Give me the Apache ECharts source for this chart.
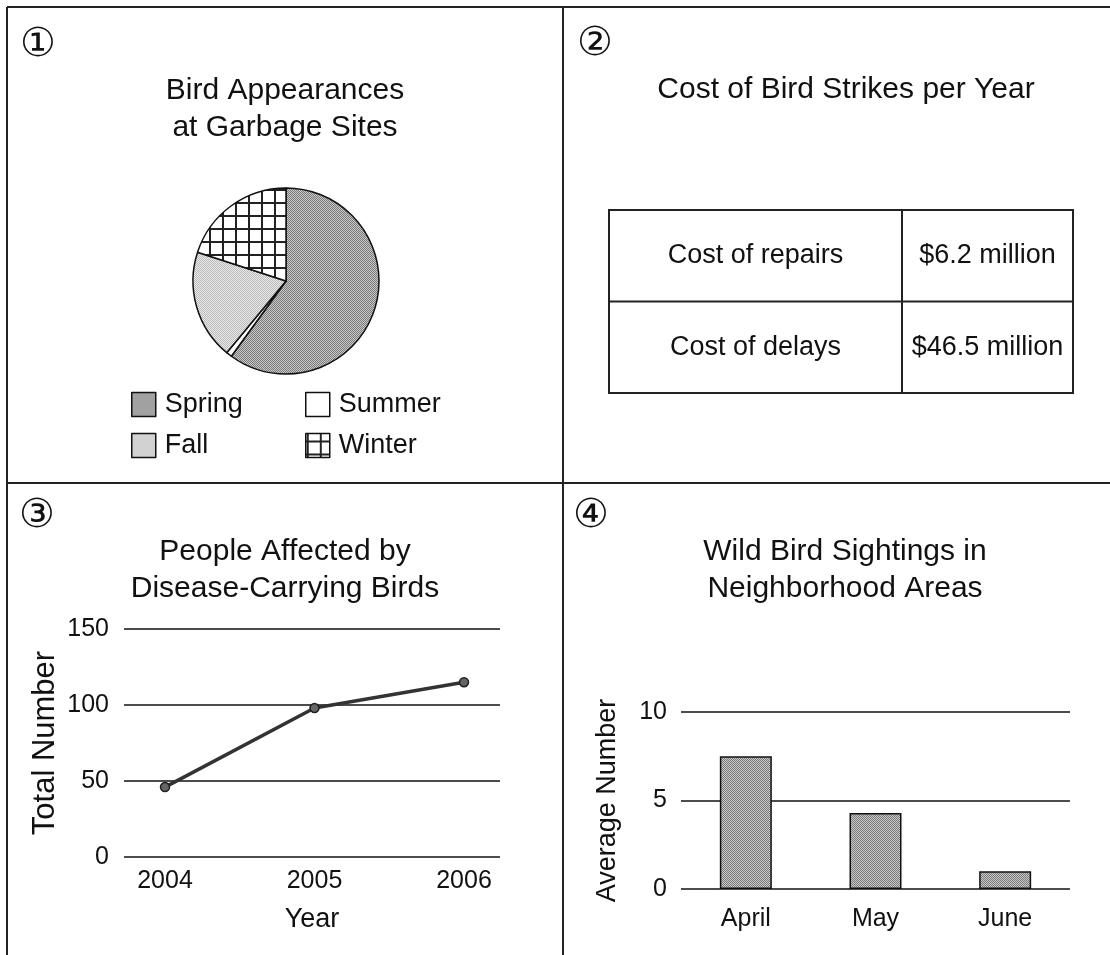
<!DOCTYPE html>
<html lang="en">
<head>
    <meta charset="UTF-8">
    <title>Bird charts</title>
    <script src="https://cdn.jsdelivr.net/npm/echarts@6.0.0/dist/echarts.min.js"></script>
    <style>
        body { margin: 0; background: #fff; }
    </style>
</head>
<body>
    <div id="main" style="width: 1110px;height:955px;"></div>
    <script type="text/javascript">
        // data
        const pieSeasons = ['Spring', 'Summer', 'Fall', 'Winter'];
        const pieShares = [60, 1, 19, 20];

        const costItems = ['Cost of repairs', 'Cost of delays'];
        const costValues = ['$6.2 million', '$46.5 million'];

        const years = [2004, 2005, 2006];
        const peopleAffected = [46, 98, 115];

        const months = ['April', 'May', 'June'];
        const sightings = [7.5, 4.3, 1.0];

        const font = 'Liberation Sans, Arial, Helvetica, sans-serif';
        const ink = '#111';

        // small canvas fills to imitate the printed stipple / grid textures
        function stipple(dark, light) {
            const c = document.createElement('canvas');
            c.width = c.height = 2;
            const ctx = c.getContext('2d');
            ctx.fillStyle = light;
            ctx.fillRect(0, 0, 2, 2);
            ctx.fillStyle = dark;
            ctx.fillRect(0, 0, 1, 1);
            ctx.fillRect(1, 1, 1, 1);
            return { image: c, repeat: 'repeat' };
        }
        function crossHatch() {
            const c = document.createElement('canvas');
            c.width = c.height = 13;
            const ctx = c.getContext('2d');
            ctx.fillStyle = '#fff';
            ctx.fillRect(0, 0, 13, 13);
            ctx.fillStyle = '#222';
            ctx.fillRect(0, 7, 13, 2);
            ctx.fillRect(1, 0, 2, 13);
            return { image: c, repeat: 'repeat' };
        }

        const darkDots = stipple('#7a7a7a', '#c8c8c8');
        const lightDots = stipple('#b8b8b8', '#ececec');
        const pieFills = [darkDots, '#fff', lightDots, crossHatch()];

        let myChart = echarts.init(document.getElementById('main'));

        // frame, panel numbers and the cost table
        let graphics = [];
        [[7, 7, 1110, 7], [7, 7, 7, 955], [563, 7, 563, 955], [7, 483, 1110, 483]].forEach(p => {
            graphics.push({ type: 'line', shape: { x1: p[0], y1: p[1], x2: p[2], y2: p[3] },
                style: { stroke: '#222', lineWidth: 2 }, silent: true });
        });
        [['①', 38, 46], ['②', 595, 45], ['③', 37, 517], ['④', 591, 517]].forEach(n => {
            graphics.push({ type: 'text', x: n[1], y: n[2], silent: true,
                style: { text: n[0], font: '40px DejaVu Sans', fill: ink, align: 'center', verticalAlign: 'middle' } });
        });

        const tbl = { x: 609, y: 210, w: 464, rowH: 91.5, split: 902 };
        graphics.push({ type: 'rect', shape: { x: tbl.x, y: tbl.y, width: tbl.w, height: tbl.rowH * costItems.length },
            style: { fill: 'none', stroke: '#222', lineWidth: 2 }, silent: true });
        graphics.push({ type: 'line', shape: { x1: tbl.split, y1: tbl.y, x2: tbl.split, y2: tbl.y + tbl.rowH * costItems.length },
            style: { stroke: '#222', lineWidth: 2 }, silent: true });
        costItems.forEach((label, i) => {
            const cy = tbl.y + tbl.rowH * (i + 0.5);
            if (i > 0) {
                graphics.push({ type: 'line', shape: { x1: tbl.x, y1: tbl.y + tbl.rowH * i, x2: tbl.x + tbl.w, y2: tbl.y + tbl.rowH * i },
                    style: { stroke: '#222', lineWidth: 2 }, silent: true });
            }
            graphics.push({ type: 'text', x: (tbl.x + tbl.split) / 2, y: cy, silent: true,
                style: { text: label, font: '27px ' + font, fill: ink, align: 'center', verticalAlign: 'middle' } });
            graphics.push({ type: 'text', x: (tbl.split + tbl.x + tbl.w) / 2, y: cy, silent: true,
                style: { text: costValues[i], font: '27px ' + font, fill: ink, align: 'center', verticalAlign: 'middle' } });
        });

        const titleStyle = { fontSize: 30, fontWeight: 'normal', lineHeight: 37, color: ink, fontFamily: font };
        const labelStyle = { fontSize: 25, color: ink, fontFamily: font };
        const nameStyle = { fontSize: 27, color: ink, fontFamily: font };
        const legendBase = {
            orient: 'vertical', itemWidth: 24, itemHeight: 24, itemGap: 14, selectedMode: false,
            icon: 'rect',
            itemStyle: { borderColor: '#111', borderWidth: 1.5 },
            textStyle: { fontSize: 27, color: ink, fontFamily: font, lineHeight: 24, padding: [0, 0, 0, 4] }
        };

        let options = {
            animation: false,
            textStyle: { fontFamily: font },
            graphic: graphics,
            title: [
                { text: 'Bird Appearances\nat Garbage Sites', left: 285, top: 72, textAlign: 'center', padding: 0, textStyle: titleStyle },
                { text: 'Cost of Bird Strikes per Year', left: 846, top: 71, textAlign: 'center', padding: 0, textStyle: titleStyle },
                { text: 'People Affected by\nDisease-Carrying Birds', left: 285, top: 533, textAlign: 'center', padding: 0, textStyle: titleStyle },
                { text: 'Wild Bird Sightings in\nNeighborhood Areas', left: 845, top: 533, textAlign: 'center', padding: 0, textStyle: titleStyle }
            ],
            legend: [
                Object.assign({}, legendBase, { data: ['Spring', 'Fall'], left: 126, top: 386 }),
                Object.assign({}, legendBase, { data: ['Summer', 'Winter'], left: 300, top: 386 })
            ],
            grid: [
                { left: 124, right: 610, top: 629, bottom: 98 },
                { left: 681, right: 40, top: 712, bottom: 66 }
            ],
            xAxis: [
                {
                    gridIndex: 0, type: 'value', min: 2003.7258, max: 2006.2408,
                    axisLine: { show: false }, axisTick: { show: false }, splitLine: { show: false },
                    axisLabel: Object.assign({ customValues: years, margin: 12, formatter: v => String(v) }, labelStyle),
                    name: 'Year', nameLocation: 'middle', nameGap: 49, nameTextStyle: nameStyle
                },
                {
                    gridIndex: 1, type: 'category', data: months,
                    axisLine: { show: false }, axisTick: { show: false },
                    axisLabel: Object.assign({ margin: 18 }, labelStyle)
                }
            ],
            yAxis: [
                {
                    gridIndex: 0, type: 'value', min: 0, max: 150, interval: 50,
                    axisLine: { show: false }, axisTick: { show: false },
                    splitLine: { lineStyle: { color: '#111', width: 1.5 } },
                    axisLabel: Object.assign({ margin: 15 }, labelStyle),
                    name: 'Total Number', nameLocation: 'middle', nameRotate: 90, nameGap: 63,
                    nameTextStyle: Object.assign({}, nameStyle, { fontSize: 31 })
                },
                {
                    gridIndex: 1, type: 'value', min: 0, max: 10, interval: 5,
                    axisLine: { show: false }, axisTick: { show: false },
                    splitLine: { lineStyle: { color: '#111', width: 1.5 } },
                    axisLabel: Object.assign({ margin: 14 }, labelStyle),
                    name: 'Average Number', nameLocation: 'middle', nameRotate: 90, nameGap: 60, nameTextStyle: nameStyle
                }
            ],
            series: [
                {
                    name: 'Bird Appearances', type: 'pie', center: [286, 281], radius: 93,
                    startAngle: 90, clockwise: true, silent: true,
                    label: { show: false }, labelLine: { show: false },
                    itemStyle: { borderColor: '#111', borderWidth: 1.5 },
                    data: pieSeasons.map((s, i) => ({ name: s, value: pieShares[i], itemStyle: { color: pieFills[i] } }))
                },
                {
                    name: 'People Affected', type: 'line', xAxisIndex: 0, yAxisIndex: 0,
                    data: years.map((y, i) => [y, peopleAffected[i]]),
                    symbol: 'circle', symbolSize: 9,
                    lineStyle: { color: '#333', width: 3.5 },
                    itemStyle: { color: '#666', borderColor: '#222', borderWidth: 1.5 }
                },
                {
                    name: 'Wild Bird Sightings', type: 'bar', xAxisIndex: 1, yAxisIndex: 1,
                    data: sightings, barWidth: 52,
                    itemStyle: { color: darkDots, borderColor: '#111', borderWidth: 1.5 }
                }
            ]
        };

        myChart.setOption(options);
    </script>
</body>
</html>
